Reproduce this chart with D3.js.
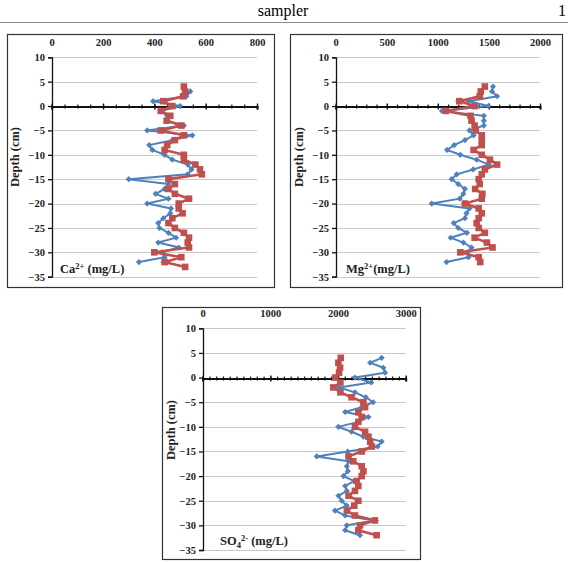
<!DOCTYPE html>
<html>
<head>
<meta charset="utf-8">
<script src="https://cdn.jsdelivr.net/npm/d3@7"></script>
<style>
  body { margin: 0; background: #fff; }
  svg { display: block; }
  text { font-family: "Liberation Serif", "Times New Roman", serif; }
</style>
</head>
<body>
<script>
// depths (cm) of the samples
var depths = [4, 3, 2, 1, 0, -1, -2, -3, -4, -5, -6, -7, -8, -9, -10, -11, -12, -13, -14, -15,
  -16, -17, -18, -19, -20, -21, -22, -23, -24, -25, -26, -27, -28, -29, -30, -31, -32];
var depthsCaRed = [4, 3, 2, 1, 0, -1, -2, -3, -4, -5, -6, -7, -8, -9, -10, -11, -12, -13, -14, -15,
  -16, -17, -18, -19, -20, -21, -22, -23, -24, -25, -26, -27, -28, -29, -30, -31, -32, -33];
var depthsCaBlue = [3, 2, 1, 0, -1, -2, -3, -4, -5, -6, -7, -8, -9, -10, -11, -12, -13, -14, -15,
  -16, -17, -18, -19, -20, -21, -22, -23, -24, -25, -26, -27, -28, -29, -30, -31, -32];
var depthTicks = [10, 5, 0, -5, -10, -15, -20, -25, -30, -35];

// Ca2+ (mg/L)
var caRed = [515, 520, 512, 435, 470, 425, 462, 448, 505, 425, 515, 480, 450, 440, 515, 515, 560, 578, 585, 455,
  480, 455, 480, 535, 495, 495, 510, 470, 455, 480, 515, 535, 530, 535, 400, 505, 440, 520];
var caBlue = [540, 525, 395, 500, 425, 450, 450, 515, 372, 548, 470, 380, 392, 440, 470, 530, 545, 530, 300,
  455, 440, 405, 455, 372, 465, 462, 435, 415, 420, 455, 485, 415, 495, 430, 440, 340];
var caTicks = [0, 200, 400, 600, 800];

// Mg2+ (mg/L)
var mgRed = [1460, 1420, 1410, 1210, 1360, 1080, 1320, 1330, 1360, 1370, 1430, 1430, 1430, 1350, 1430, 1510, 1580, 1460, 1430, 1400,
  1410, 1365, 1435, 1430, 1265, 1400, 1430, 1400, 1380, 1400, 1460, 1360, 1480, 1535, 1220, 1400, 1415];
var mgBlue = [1540, 1530, 1580, 1300, 1495, 1040, 1450, 1450, 1450, 1310, 1350, 1265, 1160, 1090, 1220, 1380, 1500, 1345, 1185, 1135,
  1200, 1265, 1250, 1215, 940, 1310, 1280, 1265, 1155, 1200, 1285, 1125, 1250, 1330, 1290, 1300, 1085];
var mgTicks = [0, 500, 1000, 1500, 2000];

// SO42- (mg/L)
var soRed = [2040, 2005, 2030, 2015, 1960, 2035, 1930, 2035, 2200, 2375, 2400, 2300, 2350, 2300, 2250, 2400, 2450, 2475, 2500, 2350,
  2155, 2225, 2350, 2375, 2350, 2275, 2300, 2250, 2155, 2300, 2240, 2130, 2250, 2545, 2325, 2300, 2570];
var soBlue = [2645, 2475, 2670, 2695, 2250, 2490, 2015, 2250, 2410, 2520, 2350, 2105, 2450, 2300, 2005, 2200, 2375, 2645, 2585, 2145,
  1685, 2155, 2130, 2145, 2080, 2240, 2105, 2130, 2005, 2055, 2130, 1955, 2105, 2520, 2130, 2105, 2325];
var soTicks = [0, 1000, 2000, 3000];

var blue = "#4F81BD", red = "#C0504D";

var svg = d3.select("body").append("svg")
    .attr("width", 568)
    .attr("height", 563);

// page header
svg.append("text")
    .attr("x", 283).attr("y", 16)
    .attr("text-anchor", "middle")
    .style("font-size", "16px")
    .text("sampler");
svg.append("text")
    .attr("x", 566).attr("y", 16)
    .attr("text-anchor", "end")
    .style("font-size", "16px")
    .text("1");
svg.append("line")
    .attr("x1", 0).attr("x2", 568)
    .attr("y1", 22.5).attr("y2", 22.5)
    .style("stroke", "#888")
    .style("stroke-width", 1);

function zip(xs, ys) {
    return xs.map(function (v, i) { return {v: v, d: ys[i]}; });
}

function makePanel(p) {
    var g = svg.append("g");

    // frame
    g.append("rect")
        .attr("x", p.box[0] + 0.5).attr("y", p.box[1] + 0.5)
        .attr("width", p.box[2] - p.box[0]).attr("height", p.box[3] - p.box[1])
        .style("fill", "#fff")
        .style("stroke", "#333")
        .style("stroke-width", 1.2);

    var x = d3.scaleLinear().domain(p.xDomain).range(p.xRange);
    var y = d3.scaleLinear().domain([-35, 10]).range(p.yRange);

    // horizontal gridlines
    g.selectAll(".grid")
        .data(depthTicks.filter(function (d) { return d !== 0; }))
        .enter().append("line")
        .attr("x1", x(p.xDomain[0])).attr("x2", x(p.xDomain[1]))
        .attr("y1", function (d) { return Math.round(y(d)) + 0.5; })
        .attr("y2", function (d) { return Math.round(y(d)) + 0.5; })
        .style("stroke", "#c8c8c8")
        .style("stroke-width", 1);

    // value labels along the top
    var top = g.append("g")
        .attr("transform", "translate(0," + (p.yRange[1] - 8) + ")")
        .call(d3.axisTop(x).tickValues(p.xTicks).tickSize(0).tickFormat(d3.format("d")));
    top.select(".domain").remove();
    top.selectAll("text")
        .style("font-family", "'Liberation Serif', serif")
        .style("font-weight", "bold")
        .style("font-size", "10.5px")
        .style("fill", "#222");

    // depth axis
    var left = g.append("g")
        .attr("transform", "translate(" + Math.round(x(0)) + ",0)")
        .call(d3.axisLeft(y).tickValues(depthTicks).tickSize(4).tickPadding(3));
    left.select(".domain").style("stroke", "#111").style("stroke-width", 1.3);
    left.selectAll("line").style("stroke", "#111").style("stroke-width", 1.3);
    left.selectAll("text")
        .style("font-family", "'Liberation Serif', serif")
        .style("font-weight", "bold")
        .style("font-size", "10.5px")
        .style("fill", "#222");

    // axis at depth 0, minor then major ticks crossing the line
    var y0 = Math.round(y(0)) + 0.5;
    var minor = g.append("g")
        .attr("transform", "translate(0," + y0 + ")")
        .call(d3.axisBottom(x).tickValues(d3.range(p.xDomain[0], p.xDomain[1] + 1, p.minor))
            .tickSize(2).tickFormat(""));
    minor.selectAll(".tick line").attr("y1", -2).style("stroke", "#111").style("stroke-width", 1.2);
    minor.select(".domain").remove();
    var zero = g.append("g")
        .attr("transform", "translate(0," + y0 + ")")
        .call(d3.axisBottom(x).tickValues(p.xTicks).tickSizeOuter(0).tickSize(3).tickFormat(""));
    zero.selectAll(".tick line").attr("y1", -3).style("stroke", "#111").style("stroke-width", 1.3);
    zero.select(".domain").style("stroke", "#111").style("stroke-width", 2);

    var line = d3.line()
        .x(function (d) { return x(d.v); })
        .y(function (d) { return y(d.d); });

    var b = zip(p.blue, p.blueDepth), r = zip(p.red, p.redDepth);

    // blue series with diamonds
    g.append("path").datum(b)
        .attr("d", line)
        .style("fill", "none")
        .style("stroke", blue)
        .style("stroke-width", 2);
    g.selectAll(".dia").data(b).enter().append("path")
        .attr("d", d3.symbol().type(d3.symbolDiamond2).size(24))
        .attr("transform", function (d) { return "translate(" + x(d.v) + "," + y(d.d) + ")"; })
        .style("fill", blue);

    // red series with squares
    g.append("path").datum(r)
        .attr("d", line)
        .style("fill", "none")
        .style("stroke", red)
        .style("stroke-width", 2.6);
    g.selectAll(".sq").data(r).enter().append("rect")
        .attr("x", function (d) { return x(d.v) - 3.3; })
        .attr("y", function (d) { return y(d.d) - 3.3; })
        .attr("width", 6.6).attr("height", 6.6)
        .style("fill", red);

    // y title
    g.append("text")
        .attr("transform", "translate(" + p.yTitle[0] + "," + p.yTitle[1] + ")rotate(-90)")
        .attr("text-anchor", "middle")
        .style("font-weight", "bold")
        .style("font-size", "12.5px")
        .style("fill", "#222")
        .text("Depth (cm)");

    // ion label
    var lab = g.append("text")
        .attr("x", p.label[0]).attr("y", p.label[1])
        .style("font-weight", "bold")
        .style("font-size", "12.5px")
        .style("fill", "#222");
    p.labelParts.forEach(function (part) {
        var t = lab.append("tspan").text(part.t);
        if (part.s === "sup") t.attr("dy", -4).style("font-size", "8.5px");
        if (part.s === "sub") t.attr("dy", 3).style("font-size", "8.5px");
        if (part.s === "supAfterSub") t.attr("dy", -7).style("font-size", "8.5px");
        if (part.s === "back") t.attr("dy", 4);
    });
}

makePanel({
    box: [7, 34, 274, 287], xDomain: [0, 800], xRange: [51.7, 257], yRange: [276.7, 57.3],
    xTicks: caTicks, minor: 50,
    red: caRed, redDepth: depthsCaRed, blue: caBlue, blueDepth: depthsCaBlue,
    yTitle: [19, 157], label: [60, 273],
    labelParts: [{t: "Ca"}, {t: "2+", s: "sup"}, {t: " (mg/L)", s: "back"}]
});
makePanel({
    box: [290, 34, 562, 287], xDomain: [0, 2000], xRange: [335.7, 540], yRange: [276.7, 57.3],
    xTicks: mgTicks, minor: 100,
    red: mgRed, redDepth: depths, blue: mgBlue, blueDepth: depths,
    yTitle: [303, 157], label: [346, 273],
    labelParts: [{t: "Mg"}, {t: "2+", s: "sup"}, {t: "(mg/L)", s: "back"}]
});
makePanel({
    box: [162, 307, 420, 559], xDomain: [0, 3000], xRange: [202.7, 405.7], yRange: [550, 328.3],
    xTicks: soTicks, minor: 100,
    red: soRed, redDepth: depths, blue: soBlue, blueDepth: depths,
    yTitle: [175, 430], label: [220, 545],
    labelParts: [{t: "SO"}, {t: "4", s: "sub"}, {t: "2-", s: "supAfterSub"}, {t: " (mg/L)", s: "back"}]
});
</script>
</body>
</html>
